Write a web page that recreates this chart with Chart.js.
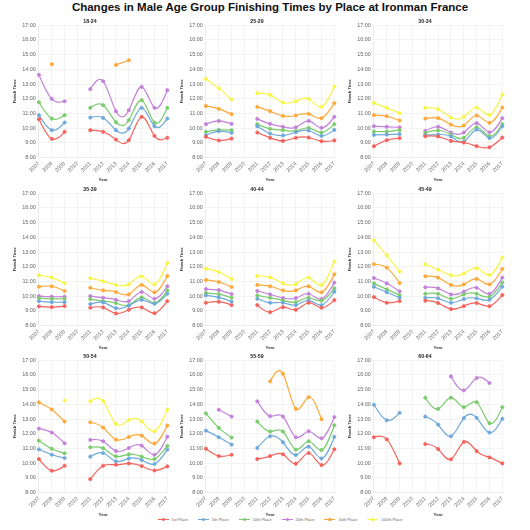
<!DOCTYPE html>
<html>
<head>
<meta charset="utf-8">
<script src="https://cdn.jsdelivr.net/npm/chart.js@4.4.0/dist/chart.umd.min.js"></script>
<style>
  html, body { margin: 0; padding: 0; background: #fff; }
  body { width: 530px; height: 530px; position: relative; overflow: hidden;
         font-family: 'Liberation Sans', Arial, Helvetica, sans-serif; }
  #title { position: absolute; top: 1px; left: 0; width: 540px; text-align: center;
           font-size: 11.5px; font-weight: bold; color: #111; }
  .panel { position: absolute; }
  #legend { position: absolute; top: 517px; left: 0; width: 560px; display: flex;
            justify-content: center; font-size: 4px; color: #666; }
  .item { display: flex; align-items: center; margin: 0 5px; }
  .swatch { position: relative; width: 11px; height: 1.3px; margin-right: 3px; }
  .swatch i { position: absolute; left: 4px; top: -1.1px; width: 3.4px; height: 3.4px; border-radius: 50%; }
</style>
</head>
<body>
<div id="title">Changes in Male Age Group Finishing Times by Place at Ironman France</div>
<div id="panels"></div>
<div id="legend"></div>

<script>
const years = ['2007', '2008', '2009', '2010', '2011', '2012', '2013', '2014', '2015', '2016', '2017'];
const places = ['1st Place', '5th Place', '10th Place', '20th Place', '50th Place', '100th Place'];
const colors = ['#f4625c', '#6ea8dc', '#7acb6c', '#c381d8', '#ffa83a', '#f7f54a'];
const groups = ['18-24', '25-29', '30-34', '35-39', '40-44', '45-49', '50-54', '55-59', '60-64'];
const N = null;

// finish times in hours, one row per place (1st, 5th, 10th, 20th, 50th, 100th)
const g18_24 = [
  [10.61, 9.27, 9.75, N, 9.86, 9.75, 9.22, 9.18, 10.77, 9.47, 9.34],
  [10.88, 9.86, 10.38, N, 10.72, 10.70, 9.86, 9.97, 11.38, 10.13, 10.65],
  [11.76, 10.65, 10.88, N, 11.38, 11.56, 10.40, 10.54, 11.90, 10.38, 11.38],
  [13.62, 11.99, 11.83, N, 12.65, 13.19, 11.15, 11.22, 12.81, 11.38, 12.58],
  [N, 14.35, N, N, N, N, 14.30, 14.62, N, N, N],
  [N, N, N, N, N, N, N, N, N, N, N]
];
const g25_29 = [
  [9.41, 9.16, 9.29, N, 9.70, 9.34, 9.13, 9.34, 9.36, 9.11, 9.16],
  [9.52, 9.79, 9.68, N, 10.13, 9.63, 9.50, 9.72, 9.84, 9.47, 9.88],
  [9.75, 9.88, 9.86, N, 10.27, 9.95, 9.86, 9.81, 10.02, 9.70, 10.27],
  [10.27, 10.49, 10.29, N, 10.63, 10.29, 10.09, 10.06, 10.49, 10.02, 10.77],
  [11.51, 11.31, 10.95, N, 11.45, 11.15, 10.83, 10.86, 10.97, 10.68, 11.70],
  [13.35, 12.72, 11.95, N, 12.38, 12.26, 11.74, 11.83, 11.99, 11.45, 12.83]
];
const g30_34 = [
  [8.77, 9.18, 9.32, N, 9.45, 9.43, 9.13, 9.02, 8.77, 8.70, 9.36],
  [9.54, 9.56, 9.59, N, 9.52, 9.56, 9.43, 9.07, 9.90, 9.32, 10.13],
  [9.77, 9.77, 9.86, N, 9.68, 9.84, 9.56, 9.34, 10.06, 9.45, 10.27],
  [10.13, 10.09, 10.06, N, 9.81, 10.09, 9.70, 9.70, 10.34, 9.72, 10.68],
  [10.88, 10.81, 10.52, N, 10.65, 10.68, 10.24, 10.18, 10.86, 10.36, 11.40],
  [11.72, 11.38, 11.02, N, 11.38, 11.29, 10.72, 10.77, 11.40, 10.90, 12.29]
];
const g35_39 = [
  [9.30, 9.25, 9.32, N, 9.21, 9.23, 8.82, 9.07, 9.23, 8.84, 9.66],
  [9.66, 9.59, 9.59, N, 9.46, 9.57, 9.18, 9.34, 9.75, 9.48, 10.16],
  [9.87, 9.82, 9.82, N, 9.80, 9.66, 9.53, 9.39, 9.91, 9.53, 10.39],
  [10.00, 9.96, 9.96, N, 10.00, 9.89, 9.75, 9.66, 10.28, 9.82, 10.67],
  [10.64, 10.67, 10.35, N, 10.57, 10.39, 10.28, 10.12, 10.76, 10.26, 11.37],
  [11.42, 11.26, 10.87, N, 11.23, 11.01, 10.76, 10.80, 11.35, 10.80, 12.26]
];
const g40_44 = [
  [9.55, 9.62, 9.39, N, 9.39, 8.91, 9.25, 9.07, 9.55, 9.21, 9.73],
  [10.05, 9.91, 9.62, N, 9.82, 9.55, 9.55, 9.39, 9.71, 9.39, 10.30],
  [10.21, 10.14, 9.89, N, 10.05, 9.89, 9.71, 9.59, 9.89, 9.69, 10.53],
  [10.48, 10.41, 10.14, N, 10.35, 10.12, 9.87, 9.87, 10.16, 9.80, 10.92],
  [11.10, 10.96, 10.62, N, 10.76, 10.67, 10.39, 10.39, 10.67, 10.26, 11.48],
  [11.87, 11.64, 11.17, N, 11.37, 11.28, 10.87, 10.82, 11.26, 10.76, 12.35]
];
const g45_49 = [
  [9.94, 9.55, 9.66, N, 9.69, 9.53, 9.12, 9.32, 9.53, 9.32, 10.07],
  [10.64, 10.26, 9.89, N, 9.89, 9.85, 9.55, 9.80, 9.85, 9.75, 10.64],
  [10.87, 10.46, 10.07, N, 10.16, 10.16, 9.82, 10.12, 10.16, 9.96, 10.92],
  [11.23, 10.87, 10.32, N, 10.60, 10.53, 10.12, 10.30, 10.57, 10.16, 11.26],
  [12.17, 11.94, 10.89, N, 11.35, 11.26, 10.76, 10.80, 11.17, 10.80, 11.85],
  [13.80, 12.78, 11.67, N, 12.17, 11.80, 11.42, 11.53, 11.90, 11.44, 12.62]
];
const g50_54 = [
  [10.28, 9.48, 9.82, N, 8.91, 9.82, 9.89, 9.98, 9.80, 9.50, 9.78],
  [10.94, 10.57, 10.35, N, 10.44, 10.69, 10.12, 10.32, 10.21, 9.94, 10.92],
  [11.53, 10.98, 10.67, N, 11.08, 11.01, 10.46, 10.60, 10.44, 10.28, 11.17],
  [12.35, 12.08, 11.35, N, 11.58, 11.49, 10.82, 11.03, 11.19, 10.57, 11.80],
  [14.13, 13.65, 12.83, N, 12.78, 12.42, 11.60, 11.78, 11.87, 11.33, 12.56],
  [N, N, 14.26, N, 14.20, 14.22, 12.67, 12.94, 12.83, 12.17, 13.65]
];
const g55_59 = [
  [10.98, 10.48, 10.57, N, 10.28, 10.48, 10.60, 9.96, 10.69, 9.87, 10.94],
  [12.21, 11.76, 11.26, N, 11.03, 11.83, 11.42, 10.55, 11.12, 10.32, 11.78],
  [13.38, 12.40, 11.74, N, 12.83, 12.15, 12.15, 10.92, 11.49, 10.89, 12.58],
  [N, 13.63, 13.17, N, 14.20, 13.19, 13.17, 11.76, 12.17, 11.69, 13.13],
  [N, N, N, N, N, 15.56, 16.08, 13.69, 14.49, 12.99, N],
  [N, N, N, N, N, N, N, N, N, N, N]
];
const g60_64 = [
  [11.76, 11.62, 9.98, N, 11.30, 10.96, 10.26, 11.44, 10.82, 10.39, 9.98],
  [13.97, 12.92, 13.42, N, 13.17, 12.62, 11.83, 13.06, 13.08, 12.08, 13.01],
  [N, N, N, N, 14.45, 13.69, 14.45, 13.81, 14.15, 12.72, 13.81],
  [N, N, N, N, N, N, 15.90, 14.95, 15.79, 15.45, N],
  [N, N, N, N, N, N, N, N, N, N, N],
  [N, N, N, N, N, N, N, N, N, N, N]
];
const groupData = [g18_24, g25_29, g30_34, g35_39, g40_44, g45_49, g50_54, g55_59, g60_64];

const colLeft = [8, 175, 343];
const rowTop = [16, 184, 351];
const panelW = 167;
const panelH = 166;

Chart.defaults.font.family = "'Liberation Sans', Arial, Helvetica, sans-serif";
Chart.defaults.color = '#666';

// natural cubic spline control points for one coordinate (same maths as d3 curveNatural)
function naturalControls(v) {
    const n = v.length - 1;
    const a = new Array(n), b = new Array(n), r = new Array(n);
    a[0] = 0; b[0] = 2; r[0] = v[0] + 2 * v[1];
    for (let i = 1; i < n - 1; ++i) { a[i] = 1; b[i] = 4; r[i] = 4 * v[i] + 2 * v[i + 1]; }
    a[n - 1] = 2; b[n - 1] = 7; r[n - 1] = 8 * v[n - 1] + v[n];
    for (let i = 1; i < n; ++i) { const m = a[i] / b[i - 1]; b[i] -= m; r[i] -= m * r[i - 1]; }
    a[n - 1] = r[n - 1] / b[n - 1];
    for (let i = n - 2; i >= 0; --i) a[i] = (r[i] - a[i + 1]) / b[i];
    b[n - 1] = (v[n] + a[n - 1]) / 2;
    for (let i = 0; i < n - 1; ++i) b[i] = 2 * v[i + 1] - a[i + 1];
    return [a, b];
}

function smoothRun(run) {
    if (run.length < 2) return;
    if (run.length === 2) {
        run[0].cp2x = run[0].x; run[0].cp2y = run[0].y;
        run[1].cp1x = run[1].x; run[1].cp1y = run[1].y;
        return;
    }
    const cx = naturalControls(run.map(p => p.x));
    const cy = naturalControls(run.map(p => p.y));
    for (let i = 0; i < run.length - 1; i++) {
        run[i].cp2x = cx[0][i]; run[i].cp2y = cy[0][i];
        run[i + 1].cp1x = cx[1][i]; run[i + 1].cp1y = cy[1][i];
    }
}

// swap Chart.js's bezier control points for a natural spline through the same points
const naturalCurve = {
    id: 'naturalCurve',
    beforeDatasetDraw(chart, args) {
        const meta = args.meta;
        const line = meta.dataset;
        if (!line) return;
        line.updateControlPoints(chart.chartArea, meta.iScale.axis);
        let run = [];
        line.points.forEach(function(p) {
            if (p.skip) { smoothRun(run); run = []; }
            else run.push(p);
        });
        smoothRun(run);
        line._path = undefined;
    }
};

const holder = document.getElementById('panels');

groups.forEach(function(name, i) {
    const box = document.createElement('div');
    box.className = 'panel';
    box.style.left = colLeft[i % 3] + 'px';
    box.style.top = rowTop[Math.floor(i / 3)] + 'px';
    box.style.width = panelW + 'px';
    box.style.height = panelH + 'px';
    const canvas = document.createElement('canvas');
    box.appendChild(canvas);
    holder.appendChild(box);

    const datasets = groupData[i].map(function(values, k) {
        return {
            label: places[k],
            data: values,
            borderColor: colors[k],
            backgroundColor: colors[k],
            borderWidth: 1.2,
            pointRadius: 1.6,
            pointBorderWidth: 0.8,
            tension: 0.4,
            spanGaps: false
        };
    });

    new Chart(canvas, {
        type: 'line',
        data: { labels: years, datasets: datasets },
        plugins: [naturalCurve],
        options: {
            responsive: true,
            maintainAspectRatio: false,
            animation: false,
            layout: { padding: { right: 3 } },
            plugins: {
                legend: { display: false },
                tooltip: { enabled: false },
                title: {
                    display: true,
                    text: name,
                    color: '#222',
                    font: { size: 5.2, weight: 'bold' },
                    padding: { top: 2, bottom: 1 }
                }
            },
            scales: {
                x: {
                    grid: { color: '#ebebeb', lineWidth: 0.6, drawTicks: false },
                    border: { color: '#ebebeb' },
                    ticks: { font: { size: 5.5 }, minRotation: 45, maxRotation: 45, padding: 3, autoSkip: false },
                    title: { display: true, text: 'Year', color: '#333', font: { size: 4.3, weight: 'bold' }, padding: { top: 0, bottom: 0 } }
                },
                y: {
                    min: 8,
                    max: 17,
                    grid: { color: '#ebebeb', lineWidth: 0.6, drawTicks: false },
                    border: { color: '#ebebeb' },
                    ticks: {
                        stepSize: 1,
                        font: { size: 5.5 },
                        padding: 3,
                        callback: function(v) { return v + ':00'; }
                    },
                    title: { display: true, text: 'Finish Time', color: '#333', font: { size: 4.3, weight: 'bold' }, padding: { top: 4, bottom: 2 } }
                }
            }
        }
    });
});

// shared legend
const legend = document.getElementById('legend');
places.forEach(function(p, k) {
    const item = document.createElement('div');
    item.className = 'item';
    item.innerHTML = '<span class="swatch" style="background:' + colors[k] + '"><i style="background:' + colors[k] + '"></i></span><span>' + p + '</span>';
    legend.appendChild(item);
});
</script>
</body>
</html>
